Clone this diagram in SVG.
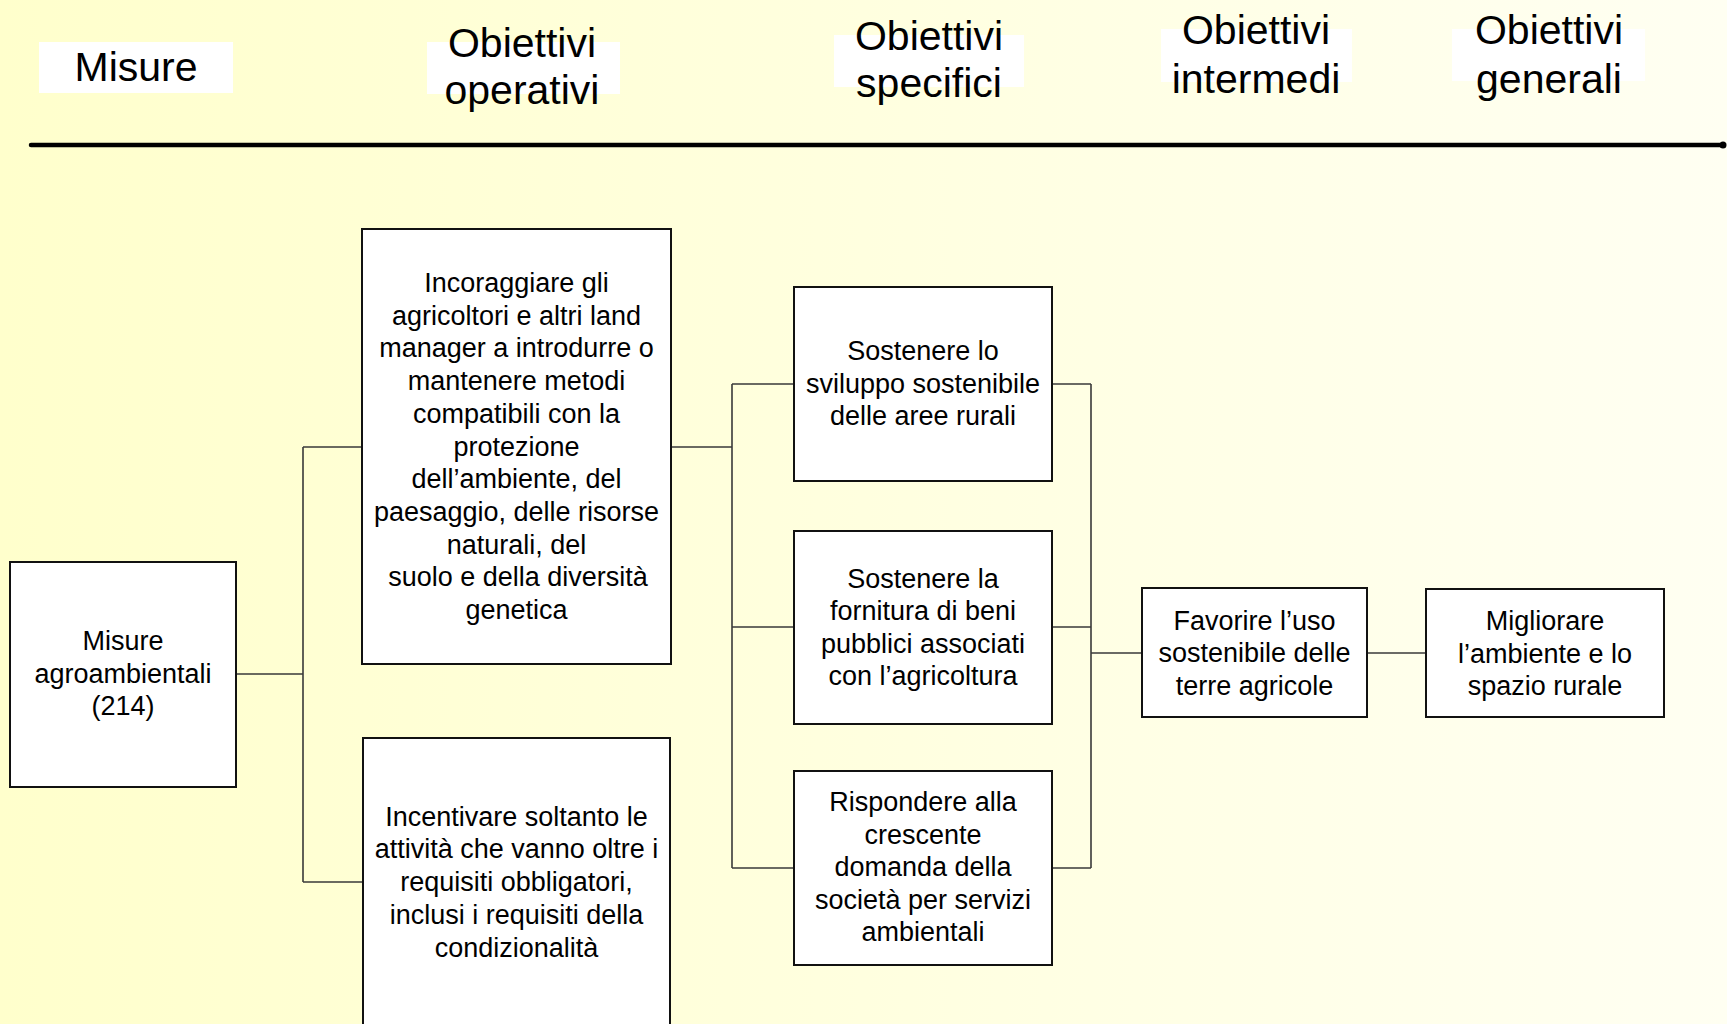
<svg xmlns="http://www.w3.org/2000/svg" width="1727" height="1024" viewBox="0 0 1727 1024">
<defs>
<linearGradient id="bg" x1="0" y1="0" x2="1" y2="0">
<stop offset="0" stop-color="#FFFFCC"/>
<stop offset="1" stop-color="#FFFFF2"/>
</linearGradient>
<style>
.hdr{fill:#FFFFFF;stroke:none}
.htxt{font-family:"Liberation Sans",Arial,sans-serif;font-size:41px;fill:#000;text-anchor:middle}
.box{fill:#FFFFFF;stroke:#111;stroke-width:2}
.txt{font-family:"Liberation Sans",Arial,sans-serif;font-size:27px;fill:#000;text-anchor:middle}
.con{fill:none;stroke:#3a3a3a;stroke-width:1.6}
</style>
</defs>
<rect x="0" y="0" width="1727" height="1024" fill="url(#bg)"/>

<g id="headers">
<g id="h-misure"><rect class="hdr" x="39" y="42" width="194" height="51"/><text class="htxt" x="136" y="81">Misure</text></g>
<g id="h-operativi"><rect class="hdr" x="427" y="42" width="193" height="52"/><text class="htxt" x="522" y="56.5">Obiettivi</text><text class="htxt" x="522" y="104">operativi</text></g>
<g id="h-specifici"><rect class="hdr" x="834" y="35" width="190" height="52"/><text class="htxt" x="929" y="49.5">Obiettivi</text><text class="htxt" x="929" y="97">specifici</text></g>
<g id="h-intermedi"><rect class="hdr" x="1161" y="29" width="191" height="53"/><text class="htxt" x="1256" y="44">Obiettivi</text><text class="htxt" x="1256" y="92.5">intermedi</text></g>
<g id="h-generali"><rect class="hdr" x="1452" y="29" width="193" height="52"/><text class="htxt" x="1549" y="44">Obiettivi</text><text class="htxt" x="1549" y="92.5">generali</text></g>
<g id="axis"><line x1="31" y1="145" x2="1722" y2="145" stroke="#000" stroke-width="4.5" stroke-linecap="round"/><circle cx="1723" cy="145" r="3.5" fill="#000"/></g>
</g>

<g id="connectors">
<path class="con" d="M236,674 H303 M303,447 V882 M303,447 H362 M303,882 H363"/>
<path class="con" d="M671,447 H732 M732,384 V868 M732,384 H794 M732,627 H794 M732,868 H794"/>
<path class="con" d="M1052,384 H1091 M1052,627 H1091 M1052,868 H1091 M1091,384 V868 M1091,653 H1142"/>
<path class="con" d="M1367,653 H1426"/>
</g>

<g id="n-misure">
<rect class="box" x="10" y="562" width="226" height="225"/>
<text class="txt" x="123" y="650">Misure</text>
<text class="txt" x="123" y="682.7">agroambientali</text>
<text class="txt" x="123" y="715.4">(214)</text>
</g>

<g id="n-incoraggiare">
<rect class="box" x="362" y="229" width="309" height="435"/>
<text class="txt" x="516.5" y="292">Incoraggiare gli</text>
<text class="txt" x="516.5" y="324.7">agricoltori e altri land</text>
<text class="txt" x="516.5" y="357.4">manager a introdurre o</text>
<text class="txt" x="516.5" y="390.1">mantenere metodi</text>
<text class="txt" x="516.5" y="422.8">compatibili con la</text>
<text class="txt" x="516.5" y="455.5">protezione</text>
<text class="txt" x="516.5" y="488.2">dell’ambiente, del</text>
<text class="txt" x="516.5" y="520.9">paesaggio, delle risorse</text>
<text class="txt" x="516.5" y="553.6">naturali, del</text>
<text class="txt" x="518" y="586.3">suolo e della diversità</text>
<text class="txt" x="516.5" y="619">genetica</text>
</g>

<g id="n-incentivare">
<rect class="box" x="363" y="738" width="307" height="310"/>
<text class="txt" x="516.5" y="825.7">Incentivare soltanto le</text>
<text class="txt" x="516.5" y="858.4">attività che vanno oltre i</text>
<text class="txt" x="516.5" y="891.1">requisiti obbligatori,</text>
<text class="txt" x="516.5" y="923.8">inclusi i requisiti della</text>
<text class="txt" x="516.5" y="956.5">condizionalità</text>
</g>

<g id="n-sviluppo">
<rect class="box" x="794" y="287" width="258" height="194"/>
<text class="txt" x="923" y="360">Sostenere lo</text>
<text class="txt" x="923" y="392.5">sviluppo sostenibile</text>
<text class="txt" x="923" y="425">delle aree rurali</text>
</g>

<g id="n-fornitura">
<rect class="box" x="794" y="531" width="258" height="193"/>
<text class="txt" x="923" y="587.7">Sostenere la</text>
<text class="txt" x="923" y="620.2">fornitura di beni</text>
<text class="txt" x="923" y="652.7">pubblici associati</text>
<text class="txt" x="923" y="685.2">con l’agricoltura</text>
</g>

<g id="n-domanda">
<rect class="box" x="794" y="771" width="258" height="194"/>
<text class="txt" x="923" y="811.3">Rispondere alla</text>
<text class="txt" x="923" y="843.8">crescente</text>
<text class="txt" x="923" y="876.3">domanda della</text>
<text class="txt" x="923" y="908.8">società per servizi</text>
<text class="txt" x="923" y="941.3">ambientali</text>
</g>

<g id="n-favorire">
<rect class="box" x="1142" y="588" width="225" height="129"/>
<text class="txt" x="1254.5" y="629.5">Favorire l’uso</text>
<text class="txt" x="1254.5" y="662">sostenibile delle</text>
<text class="txt" x="1254.5" y="694.5">terre agricole</text>
</g>

<g id="n-migliorare">
<rect class="box" x="1426" y="589" width="238" height="128"/>
<text class="txt" x="1545" y="629.5">Migliorare</text>
<text class="txt" x="1545" y="662.5">l’ambiente e lo</text>
<text class="txt" x="1545" y="695">spazio rurale</text>
</g>
</svg>
